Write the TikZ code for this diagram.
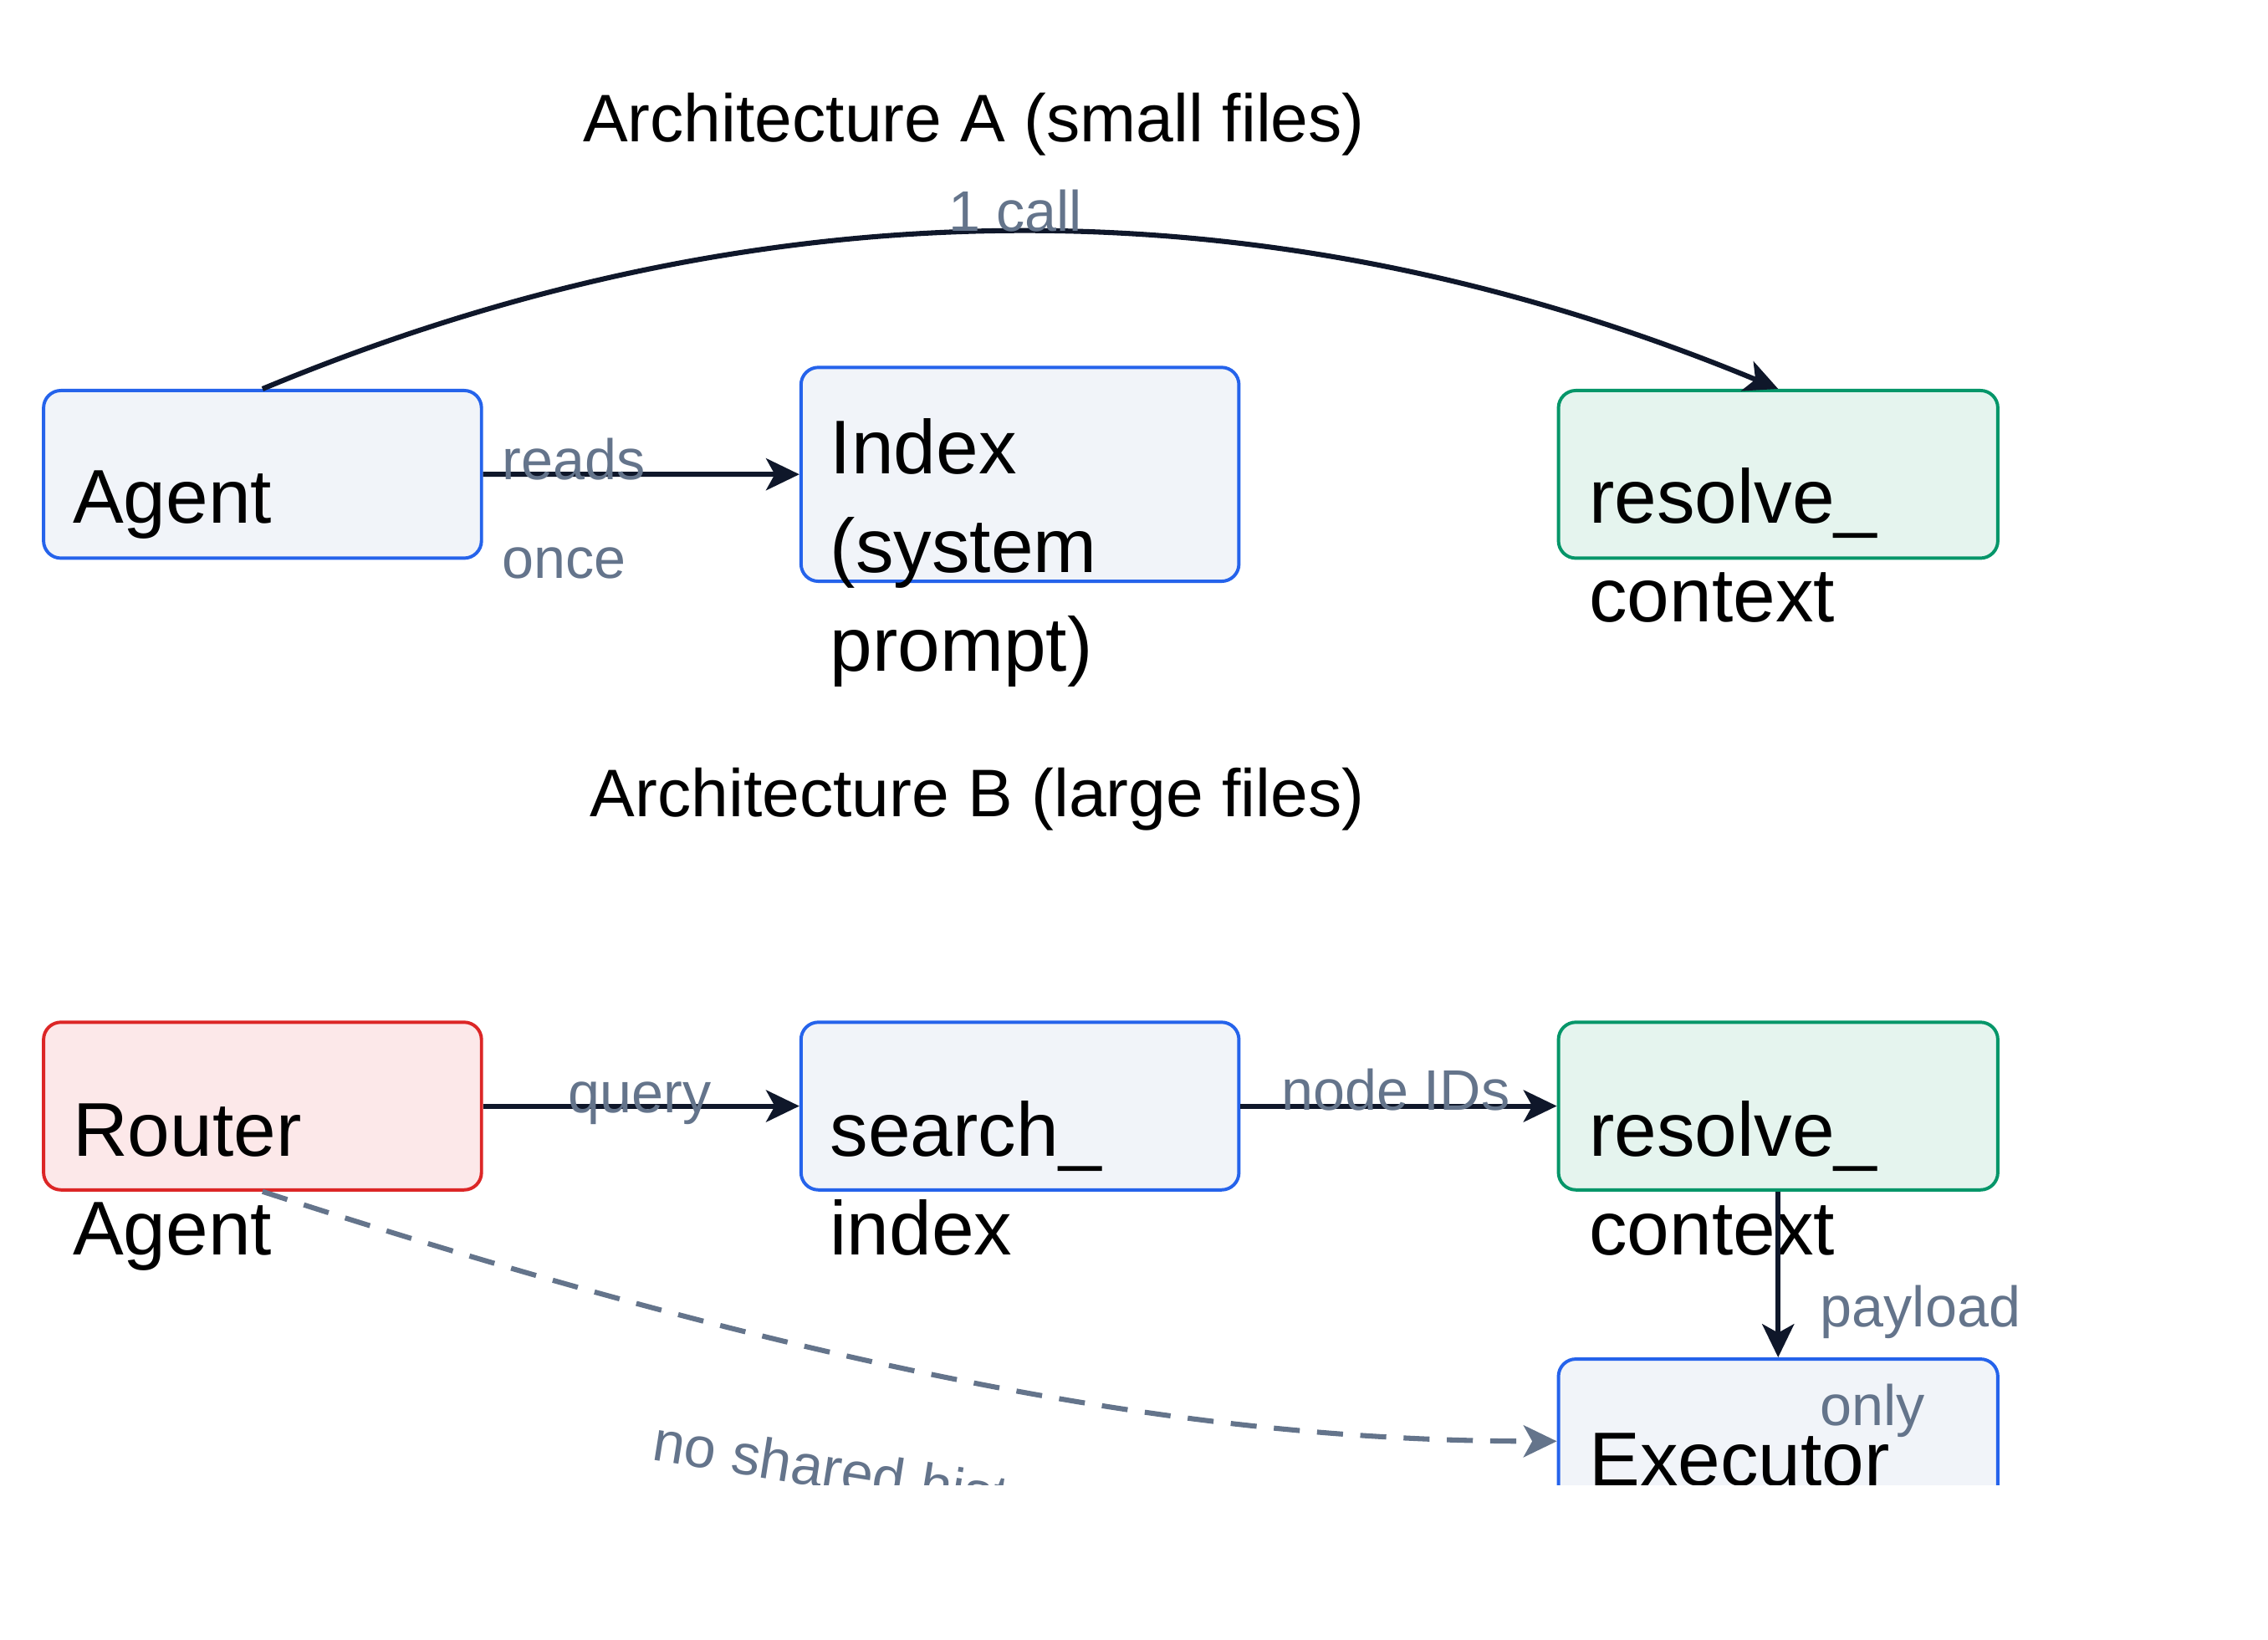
\documentclass[tikz,border=0pt]{standalone}
\usepackage{fontspec}
\setmainfont{Liberation Sans}
\usetikzlibrary{arrows.meta}
\definecolor{bblue}{HTML}{2563EB}\definecolor{fblue}{HTML}{F1F4F9}
\definecolor{bgreen}{HTML}{059669}\definecolor{fgreen}{HTML}{E5F4EE}
\definecolor{bred}{HTML}{DC2626}\definecolor{fred}{HTML}{FCE8E9}
\definecolor{ink}{HTML}{0F172A}\definecolor{lbl}{HTML}{64748B}
\begin{document}
\begin{tikzpicture}[x=0.02cm,y=-0.02cm,
  box/.style={draw=#1,line width=1.3pt,rounded corners=0.24cm},
  txt/.style={anchor=base west,inner sep=0,font=\fontsize{30}{36}\selectfont},
  lab/.style={anchor=base west,inner sep=0,text=lbl,font=\fontsize{22.5}{27}\selectfont},
  ttl/.style={anchor=base west,inner sep=0,font=\fontsize{26.5}{32}\selectfont},
  arr/.style={draw=ink,line width=2pt,-{Stealth[length=0.46cm,width=0.44cm,inset=0.12cm]}}]
\useasboundingbox (0,0) rectangle (1569,1134);
\clip (0,0) rectangle (1569,1027);
% boxes
\node[box=bblue,fill=fblue,minimum width=6.06cm,minimum height=2.32cm,anchor=north west] (agent) at (29,269) {};
\node[box=bblue,fill=fblue,minimum width=6.06cm,minimum height=2.96cm,anchor=north west] (index) at (553,253) {};
\node[box=bgreen,fill=fgreen,minimum width=6.08cm,minimum height=2.32cm,anchor=north west] (resA) at (1077,269) {};
\node[box=bred,fill=fred,minimum width=6.06cm,minimum height=2.32cm,anchor=north west] (router) at (29,706) {};
\node[box=bblue,fill=fblue,minimum width=6.06cm,minimum height=2.32cm,anchor=north west] (search) at (553,706) {};
\node[box=bgreen,fill=fgreen,minimum width=6.08cm,minimum height=2.32cm,anchor=north west] (resB) at (1077,706) {};
\node[box=bblue,fill=fblue,minimum width=6.08cm,minimum height=4cm,anchor=north west] (exec) at (1077,939) {};
% texts
\node[ttl] (tA) at (403,98) {Architecture A (small files)};
\node[ttl] (tB) at (408,565) {Architecture B (large files)};
\node[txt] (t1) at (50,362) {Agent};
\node[txt] (t2) at (574,328) {Index};
\node[txt] (t3) at (574,396) {(system};
\node[txt] (t4) at (574,464) {prompt)};
\node[txt] (t5) at (1099,362) {resolve\_};
\node[txt] (t6) at (1099,430) {context};
\node[txt] (t7) at (50,800) {Router};
\node[txt] (t8) at (50,868) {Agent};
\node[txt] (t9) at (574,800) {search\_};
\node[txt] (t10) at (574,868) {index};
\node[txt] (t11) at (1099,800) {resolve\_};
\node[txt] (t12) at (1099,868) {context};
\node[txt] (t13) at (1099,1028) {Executor};
% edges
\draw[arr] (agent.north) .. controls (530,124) and (880,124) .. (resA.north);
\node[lab] (l1) at (656,160) {1 call};
\draw[arr] (agent.east) -- (index.west);
\node[lab] (l2) at (347,332) {reads};
\node[lab] (l3) at (347,400) {once};
\draw[arr] (router.east) -- (search.west);
\node[lab] (l4) at (393,770) {query};
\draw[arr] (search.east) -- (resB.west);
\node[lab] (l5) at (886,768) {node IDs};
\draw[arr] (resB.south) -- (exec.north);
\node[lab] (l6) at (1259,918) {payload};
\node[lab] (l7) at (1259,986) {only};
\draw[draw=lbl,line width=2pt,dash pattern=on 0.36cm off 0.24cm,-{Stealth[length=0.46cm,width=0.44cm,inset=0.12cm]}] (router.south) .. controls (600,960) and (850,997) .. (exec.west|-0,997);
\node[lab,rotate=-9] (l8) at (450,1010) {no shared history};
\end{tikzpicture}
\end{document}
